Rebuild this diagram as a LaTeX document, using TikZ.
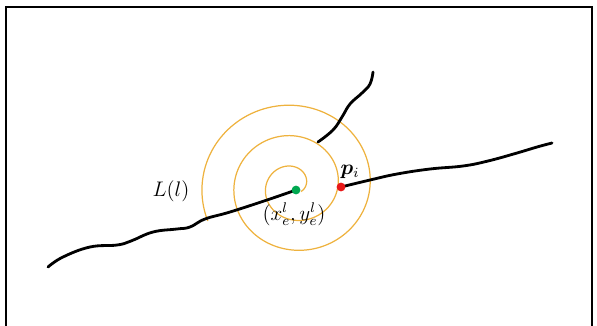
\documentclass[tikz,border=0pt]{standalone}
\usepackage{tikz}
\usetikzlibrary{positioning, calc}
\usepackage{amsmath, amssymb, bm}
\colorlet{rule}{black}
\definecolor{spiralC}{RGB}{238,178,62}
\definecolor{dotG}{RGB}{0,168,80}
\definecolor{dotR}{RGB}{232,24,24}
\tikzset{
  frame/.style   ={draw=rule, line width=1.5pt},
  curve/.style   ={draw=rule, line width=1.6pt, line cap=round, line join=round},
  spiral/.style  ={draw=spiralC, line width=0.7pt},
  pt/.style      ={circle, inner sep=0pt, minimum size=5pt},
  lbl/.style     ={font=\large, inner sep=1pt},
  declare function={sprad(\t)=12+32*(rad(\t)+cos(\t))/(2*pi);},
}
\begin{document}
\begin{tikzpicture}[x=0.02cm, y=-0.02cm]
\useasboundingbox (0,0) rectangle (597,325);

% frame (open at the bottom)
\draw[frame] (6,330) -- (6,7) -- (592,7) -- (592,330);

\coordinate (E) at (296,190);
\coordinate (P) at (341,187);
\coordinate (C) at (289,185);

% search spiral around the end point (grows in the lower half of each turn)
\draw[spiral] plot[domain=-30:925, samples=240, variable=\t, smooth]
  ({289 + sprad(\t)*cos(\t)}, {185 - 0.95*sprad(\t)*sin(\t)});

% road segment L(l), ending at (x_e, y_e)
\draw[curve] plot[smooth, tension=0.7] coordinates {
  (48,267) (63,257) (90,247) (117,245) (131,241) (153,232)
  (177,229) (190,227) (205,219) (230,212) (267,200) (E)};

% candidate segment starting at p_i
\draw[curve] plot[smooth, tension=0.7] coordinates {
  (P) (370,180) (397,174) (430,169) (463,166) (488,161)
  (517,153) (537,147) (552,143)};

% other segment
\draw[curve] plot[smooth, tension=0.7] coordinates {
  (318,142) (333,130) (342,117) (350,104) (362,93) (370,84) (373,72)};

\node[pt, fill=dotG] (endpt) at (E) {};
\node[pt, fill=dotR] (pipt) at (P) {};

\node[lbl] (Ll) at (171,191) {$L(l)$};
\node[lbl] (pi) at (350,172) {$\bm{p}_i$};
\node[lbl] (xy) at (294,214) {$(x_e^l, y_e^l)$};

\end{tikzpicture}
\end{document}
